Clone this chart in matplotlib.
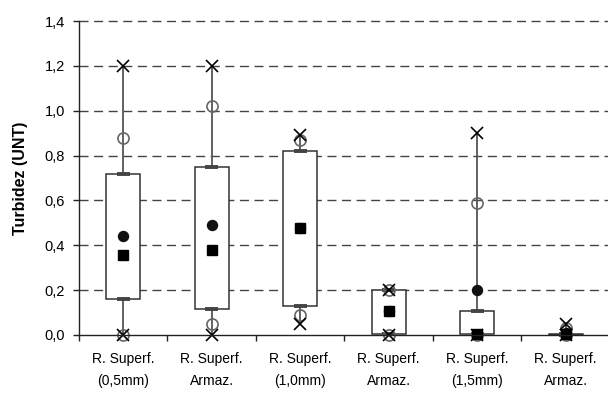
import matplotlib
matplotlib.use("Agg")
import matplotlib.pyplot as plt
from matplotlib.patches import Rectangle
import numpy as np

plt.rcParams['font.family'] = ['Liberation Sans', 'DejaVu Sans']

categories = ["R. Superf.\n(0,5mm)", "R. Superf.\nArmaz.", "R. Superf.\n(1,0mm)",
              "R. Superf.\nArmaz.", "R. Superf.\n(1,5mm)", "R. Superf.\nArmaz."]
max_vals = [1.20, 1.20, 0.89, 0.20, 0.90, 0.05]
p_high = [0.88, 1.02, 0.87, 0.20, 0.59, 0.03]
q3_vals = [0.72, 0.75, 0.82, 0.20, 0.105, 0.005]
mean_vals = [0.44, 0.49, 0.477, 0.107, 0.20, 0.01]
median_vals = [0.355, 0.38, 0.477, 0.107, 0.005, 0.003]
q1_vals = [0.16, 0.115, 0.13, 0.005, 0.005, 0.0]
p_low = [0.0, 0.05, 0.09, 0.0, 0.0, 0.0]
min_vals = [0.0, 0.0, 0.05, 0.0, 0.0, 0.0]
yticks = [0.0, 0.2, 0.4, 0.6, 0.8, 1.0, 1.2, 1.4]

fig = plt.figure(figsize=(6.08, 3.94), dpi=100)
ax = fig.add_axes([79/608, 59/394, 531/608, 314/394])
ax.set_xlim(0, len(categories))
ax.set_ylim(0, 1.4)

for y in yticks[1:]:
    ax.axhline(y, color='#444444', lw=1.0, linestyle=(0, (6.5, 4.0)), zorder=1, clip_on=False)

half_w = 0.192
cap_w = 0.075
for i in range(len(categories)):
    c = i + 0.5
    ax.plot([c, c], [min_vals[i], max_vals[i]], color='#555555', lw=1.3, zorder=2, clip_on=False)
    rect = Rectangle((c - half_w, q1_vals[i]), 2 * half_w, q3_vals[i] - q1_vals[i],
                     facecolor='white', edgecolor='#333333', lw=1.1, zorder=3, clip_on=False)
    ax.add_patch(rect)
    for v in (q1_vals[i], q3_vals[i]):
        ax.plot([c - cap_w, c + cap_w], [v, v], color='#444444', lw=2.8, zorder=4,
                solid_capstyle='butt', clip_on=False)
    ax.plot([c, c], [p_high[i], p_low[i]], linestyle='none', marker='o', ms=8,
            mfc='none', mec='#666666', mew=1.2, zorder=5, clip_on=False)
    ax.plot([c], [mean_vals[i]], linestyle='none', marker='o', ms=7.2,
            color='#111111', zorder=6, clip_on=False)
    ax.plot([c], [median_vals[i]], linestyle='none', marker='s', ms=7.0,
            color='black', zorder=7, clip_on=False)
    ax.plot([c, c], [max_vals[i], min_vals[i]], linestyle='none', marker='x', ms=8,
            mec='black', mew=1.2, zorder=8, clip_on=False)

ax.spines['top'].set_visible(False)
ax.spines['right'].set_visible(False)
for s in ('left', 'bottom'):
    ax.spines[s].set_color('#222222')
    ax.spines[s].set_linewidth(1.0)
    ax.spines[s].set_zorder(9)

ax.set_yticks(yticks)
ax.set_yticklabels([f"{v:.1f}".replace('.', ',') for v in yticks], fontsize=10.5)
ax.tick_params(axis='y', direction='out', length=4, width=1, color='#222222', pad=6)

ax.set_xticks(np.arange(0, len(categories) + 1))
ax.set_xticklabels([])
ax.tick_params(axis='x', direction='out', length=4, width=1, color='#222222')
for i, lab in enumerate(categories):
    ax.text(i + 0.5, -0.075, lab, ha='center', va='top', fontsize=10,
            linespacing=1.75, transform=ax.transData)

ax.set_ylabel("Turbidez (UNT)", fontsize=11.5, fontweight='bold', labelpad=12)

fig.savefig("out.png", dpi=100)
